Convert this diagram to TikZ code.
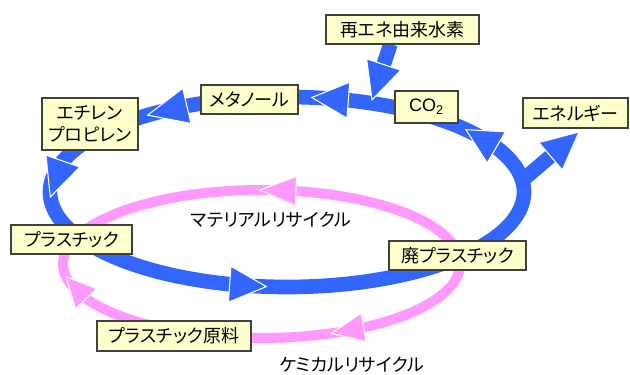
\documentclass[tikz,border=0pt]{standalone}
\usepackage{fontspec}
\setmainfont{Noto Sans CJK JP}[RawFeature={+palt}]
\newfontfamily\latinfont{Liberation Sans}
\usetikzlibrary{calc}
\definecolor{flowblue}{HTML}{3366FF}
\definecolor{flowpink}{HTML}{FF99FF}
\definecolor{boxfill}{HTML}{FFFFCC}
\definecolor{boxline}{HTML}{404040}
\newcommand\bhead[2]{%
  \path ($(B)+(#1:237 and 95)$) coordinate (hT) ($(B)+(#2:237 and 95)$) coordinate (hB);
  \filldraw[headb] (hT) -- ($(hB)!13.5pt!90:(hT)$) -- ($(hB)!13.5pt!-90:(hT)$) -- cycle;}
\newcommand\phead[2]{%
  \path ($(P)+(#1:198.5 and 74)$) coordinate (hT) ($(P)+(#2:198.5 and 74)$) coordinate (hB);
  \filldraw[headp] (hT) -- ($(hB)!11pt!90:(hT)$) -- ($(hB)!11pt!-90:(hT)$) -- cycle;}
\begin{document}
\begin{tikzpicture}[x=0.75pt,y=0.75pt,
  box/.style={draw=boxline, fill=boxfill, line width=1.2pt, inner sep=0pt,
    font=\fontsize{13.5}{16.5}\selectfont, align=center},
  blueline/.style={draw=flowblue, line width=11pt},
  pinkline/.style={draw=flowpink, line width=7.5pt},
  headb/.style={fill=flowblue, draw=white, line width=0.8pt, line join=miter},
  headp/.style={fill=flowpink, draw=white, line width=0.8pt, line join=miter},
  lbl/.style={font=\fontsize{13.5}{16}\selectfont, inner sep=0pt}]
\useasboundingbox (0,0) rectangle (630,374);
\coordinate (B) at (287,182);
\coordinate (P) at (261.5,110);

% box positions (named)
\path
  (402.5,344.5) coordinate (hydro)
  (426.5,267)   coordinate (co2)
  (575.5,261)   coordinate (energy);
\path (hydro) ++(0,-14.5) coordinate (hydroS);
\path (energy) ++(0,-15) coordinate (energyS);

% blue loop points
\coordinate (bHai) at ($(B)+(-43:237 and 95)$);
\coordinate (bCO) at ($(B)+(57:237 and 95)$);
\coordinate (bMe) at ($(B)+(99:237 and 95)$);
\coordinate (bEt) at ($(B)+(139:237 and 95)$);
\coordinate (bPl) at ($(B)+(209:237 and 95)$);
\coordinate (bEn) at ($(B)+(7:237 and 95)$);

\draw[blueline] (bHai) arc[start angle=-43, end angle=57, x radius=237, y radius=95];
\draw[blueline] (bCO) arc[start angle=57, end angle=99, x radius=237, y radius=95];
\draw[blueline] (bMe) arc[start angle=99, end angle=139, x radius=237, y radius=95];
\draw[blueline] (bEt) arc[start angle=139, end angle=209, x radius=237, y radius=95];
\draw[blueline] (bPl) arc[start angle=209, end angle=317, x radius=237, y radius=95];

% branches
\coordinate (hS) at ($(hydroS)+(-12,0)$);
\coordinate (hTip) at (372,274);
\coordinate (hBase) at ($(hTip)!28pt!(hS)$);
\draw[blueline] (hS) -- (hBase);
\filldraw[headb] (hTip) -- ($(hBase)!13.5pt!90:(hTip)$) -- ($(hBase)!13.5pt!-90:(hTip)$) -- cycle;

\coordinate (eTip) at ($(energyS)+(3.5,-4)$);
\coordinate (eBase) at ($(eTip)!28pt!(bEn)$);
\draw[blueline] (bEn) -- (eBase);
\filldraw[headb] (eTip) -- ($(eBase)!13.5pt!90:(eTip)$) -- ($(eBase)!13.5pt!-90:(eTip)$) -- cycle;

% blue arrowheads
\bhead{41}{28}
\bhead{84}{75}
\bhead{126}{115}
\bhead{183}{161}
\bhead{265}{256}

% pink loop
\coordinate (pHai) at ($(P)+(7:198.5 and 74)$);
\coordinate (pRaw) at ($(P)+(246:198.5 and 74)$);
\draw[pinkline] (pHai) arc[start angle=7, end angle=161, x radius=198.5, y radius=74];
\draw[pinkline] (pHai) arc[start angle=7, end angle=-114, x radius=198.5, y radius=74];
\draw[pinkline] (pRaw) arc[start angle=246, end angle=161, x radius=198.5, y radius=74];
\phead{90.5}{80}
\phead{-69.4}{-59}
\phead{190}{208}

% boxes on top
\node[box, minimum width=114.75pt, minimum height=21.75pt] (hydrobox) at (hydro) {再エネ由来水素};
\node[box, minimum width=72.75pt, minimum height=21.75pt] (meth) at (249.5,274.5) {メタノール};
\node[box, minimum width=72pt, minimum height=39pt] (ethy) at (90,250) {エチレン\\プロピレン};
\node[box, minimum width=47.25pt, minimum height=24pt, font=\latinfont\fontsize{13.5}{16}\selectfont] (co2box) at (co2) {CO\textsubscript{2}};
\node[box, minimum width=78.75pt, minimum height=22.5pt] (energybox) at (energy) {エネルギー};
\node[box, minimum width=90.75pt, minimum height=21.75pt] (plastic) at (71.5,134.5) {プラスチック};
\node[box, minimum width=102.75pt, minimum height=21.75pt] (haipla) at (457.5,118.5) {廃プラスチック};
\node[box, minimum width=115.5pt, minimum height=22.5pt] (raw) at (174,38) {プラスチック原料};

\node[lbl] (mat) at (271,154) {マテリアルリサイクル};
\node[lbl] (chem) at (352,9) {ケミカルリサイクル};
\end{tikzpicture}
\end{document}
